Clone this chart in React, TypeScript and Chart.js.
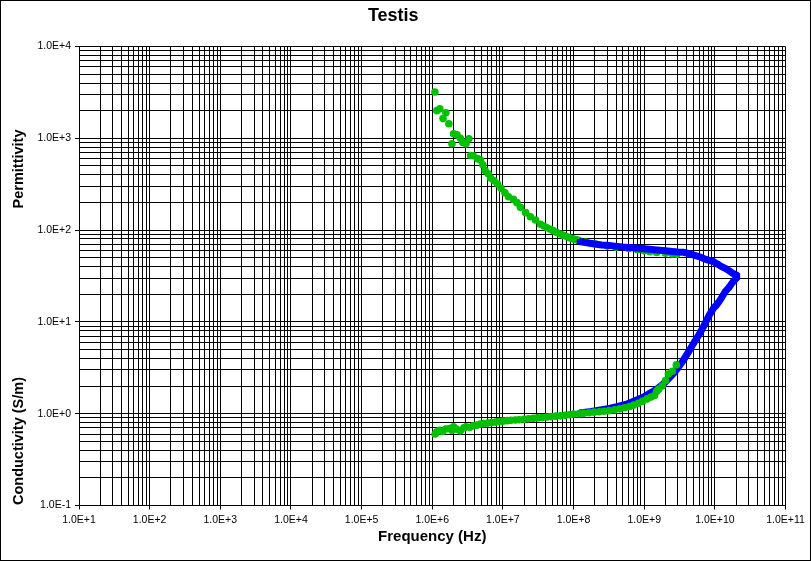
import { useEffect, useRef } from 'react'
import { Chart, registerables } from 'chart.js'

Chart.register(...registerables)

// green series
const greenPermFreq = [
  1.09e6, 1.16e6, 1.28e6, 1.42e6, 1.56e6, 1.72e6, 1.9e6, 2.0e6, 2.24e6, 2.5e6,
  2.7e6, 3.0e6, 3.3e6, 3.5e6, 3.8e6, 4.4e6, 4.8e6, 5.2e6, 5.6e6, 6.2e6,
  6.7e6, 7.5e6, 8.4e6, 9.4e6, 1.07e7, 1.2e7, 1.41e7, 1.58e7, 1.77e7, 2.1e7,
  2.45e7, 2.9e7, 3.4e7, 3.8e7, 4.2e7, 4.7e7, 5.2e7, 5.8e7, 6.5e7, 7.2e7,
  8.1e7, 9.0e7, 1.0e8, 1.08e8, 1.18e8, 1.5e8, 2.0e8, 3.0e8, 4.0e8, 6.0e8,
  8.0e8, 1.0e9, 1.2e9, 1.5e9, 2.0e9, 2.5e9, 2.9e9,
]
const greenPermVal = [
  3200, 2000, 2100, 1640, 1900, 1440, 870, 1120, 1090, 1000,
  900, 870, 990, 650, 645, 600, 580, 515, 445, 410,
  370, 345, 318, 285, 255, 231, 216, 199, 177, 155,
  140, 129, 116, 111, 106, 102, 98, 94, 90.6, 87.5,
  84.6, 82, 80, 78.7, 77.5, 74, 71, 67, 65, 63,
  61, 59.5, 58, 57, 56, 55, 54.5,
]

const greenCondFreq = [
  1.1e6, 1.15e6, 1.25e6, 1.4e6, 1.55e6, 1.75e6, 1.9e6, 2.0e6, 2.2e6, 2.5e6,
  2.8e6, 3.0e6, 3.4e6, 3.8e6, 4.3e6, 4.8e6, 5.4e6, 6.1e6, 6.9e6, 7.8e6,
  8.8e6, 1.0e7, 1.15e7, 1.3e7, 1.5e7, 1.7e7, 2.0e7, 2.3e7, 2.7e7, 3.1e7,
  3.6e7, 4.2e7, 4.8e7, 5.6e7, 6.5e7, 7.6e7, 8.8e7, 1.0e8, 1.2e8, 1.4e8,
  1.65e8, 1.95e8, 2.3e8, 2.7e8, 3.2e8, 3.8e8, 4.5e8, 5.3e8, 6.2e8, 7.1e8,
  8.2e8, 9.5e8, 1.1e9, 1.25e9, 1.4e9, 1.5e9, 1.6e9, 1.8e9, 2.0e9, 2.2e9,
  2.5e9, 2.85e9,
]
const greenCondVal = [
  0.6, 0.63, 0.66, 0.64, 0.68, 0.69, 0.66, 0.72, 0.68, 0.65,
  0.7, 0.72, 0.71, 0.74, 0.75, 0.77, 0.78, 0.79, 0.8, 0.81,
  0.82, 0.83, 0.84, 0.85, 0.855, 0.86, 0.87, 0.88, 0.89, 0.9,
  0.91, 0.92, 0.93, 0.94, 0.95, 0.96, 0.975, 0.99, 1.0, 1.01,
  1.025, 1.04, 1.05, 1.065, 1.08, 1.1, 1.13, 1.16, 1.2, 1.24,
  1.3, 1.37, 1.45, 1.52, 1.58, 1.75, 1.85, 2.0, 2.3, 2.7,
  2.9, 3.4,
]

// blue series
const bluePermFreq = [
  1.2e8, 1.4e8, 1.7e8, 2.0e8, 2.5e8, 3.0e8, 4.1e8, 5.0e8, 6.0e8, 7.0e8,
  8.8e8, 1.0e9, 1.2e9, 1.5e9, 2.0e9, 2.5e9, 3.0e9, 3.6e9, 4.3e9, 5.2e9,
  6.2e9, 7.5e9, 8.5e9, 9.6e9, 1.1e10, 1.25e10, 1.4e10, 1.6e10, 1.8e10, 2.1e10,
]
const bluePermVal = [
  75, 73.5, 72, 70.5, 69, 68.3, 66.5, 65.5, 64.8, 64.2,
  63.5, 62.8, 61.8, 60.8, 59.5, 58.5, 57.8, 57.3, 55.5, 53,
  51, 48, 46.5, 45.3, 42.5, 40, 38.4, 36, 33.8, 32,
]

const blueCondFreq = [
  2.1e10, 1.8e10, 1.6e10, 1.4e10, 1.2e10, 1.05e10, 9.6e9, 8.3e9, 6.9e9, 6.0e9,
  5.0e9, 4.3e9, 3.6e9, 3.0e9, 2.6e9, 2.2e9, 1.9e9, 1.5e9, 1.2e9, 9.5e8,
  7.1e8, 5.5e8, 4.1e8, 3.2e8, 2.4e8, 1.8e8, 1.38e8, 1.2e8,
]
const blueCondVal = [
  31, 27.3, 24, 21.3, 17.5, 15.2, 14.1, 11.8, 8.9, 7.3,
  5.85, 4.8, 3.85, 3.15, 2.75, 2.4, 2.14, 1.85, 1.67, 1.5,
  1.37, 1.26, 1.19, 1.14, 1.1, 1.06, 1.03, 1.02,
]

// axis ranges: decades 1e1..1e11 and 1e-1..1e4
const xDecades = [1, 2, 3, 4, 5, 6, 7, 8, 9, 10, 11]
const yDecades = [-1, 0, 1, 2, 3, 4]
const mantissas = [1, 2, 3, 4, 5, 6, 7, 8, 9]

const GREEN = '#00c000'
const BLUE = '#0000ff'
const FONT = '"Liberation Sans", Arial, sans-serif'

const zip = (xs: number[], ys: number[]) => xs.map((x, i) => ({ x, y: ys[i] }))

const gridValues = (decades: number[]) => {
  const out: number[] = []
  decades.forEach((e, i) => {
    if (i === decades.length - 1) out.push(Math.pow(10, e))
    else mantissas.forEach(m => out.push(m * Math.pow(10, e)))
  })
  return out
}

const isDecade = (v: any) => {
  if (typeof v !== 'number' || v <= 0) return false
  const l = Math.log10(v)
  return Math.abs(l - Math.round(l)) < 1e-9
}
const fmt = (v: number) => v.toExponential(1).toUpperCase()

const sideTitles = {
  id: 'sideTitles',
  afterDraw(chart: Chart) {
    const { ctx } = chart
    const put = (text: string, x: number, y: number) => {
      ctx.save()
      ctx.translate(x, y)
      ctx.rotate(-Math.PI / 2)
      ctx.fillStyle = '#000'
      ctx.font = `bold 14.5px ${FONT}`
      ctx.textAlign = 'center'
      ctx.textBaseline = 'middle'
      ctx.fillText(text, 0, 0)
      ctx.restore()
    }
    put('Permittivity', 17.5, 168)
    put('Conductivity (S/m)', 17.5, 440)
  },
}

export default function App() {
  const canvasRef = useRef<HTMLCanvasElement>(null)
  const chartRef = useRef<Chart | null>(null)

  useEffect(() => {
    if (!canvasRef.current) return
    if (chartRef.current) chartRef.current.destroy()

    const tickFont = { family: FONT, size: 10.5 }
    const tickColor = (ctx: any) => (isDecade(ctx.tick?.value) ? '#000' : 'rgba(0,0,0,0)')

    chartRef.current = new Chart(canvasRef.current, {
      type: 'scatter',
      data: {
        datasets: [
          {
            data: zip(greenCondFreq, greenCondVal),
            order: 0,
            pointStyle: 'circle',
            pointRadius: 3.8,
            pointBorderWidth: 0,
            pointBackgroundColor: GREEN,
            showLine: false,
          },
          {
            data: zip(blueCondFreq, blueCondVal),
            order: 1,
            pointStyle: 'rect',
            pointRadius: 3.5,
            pointBorderWidth: 0,
            pointBackgroundColor: BLUE,
            showLine: true,
            borderColor: BLUE,
            borderWidth: 7,
          },
          {
            data: zip(bluePermFreq, bluePermVal),
            order: 2,
            pointStyle: 'rect',
            pointRadius: 3.5,
            pointBorderWidth: 0,
            pointBackgroundColor: BLUE,
            showLine: true,
            borderColor: BLUE,
            borderWidth: 7,
          },
          {
            data: zip(greenPermFreq, greenPermVal),
            order: 3,
            pointStyle: 'circle',
            pointRadius: 3.8,
            pointBorderWidth: 0,
            pointBackgroundColor: GREEN,
            showLine: false,
          },
        ],
      },
      options: {
        animation: false,
        responsive: true,
        maintainAspectRatio: false,
        layout: { padding: { top: 0, right: 24.5, bottom: 0, left: 0 } },
        plugins: {
          legend: { display: false },
          tooltip: { enabled: false },
          title: {
            display: true,
            text: 'Testis',
            color: '#000',
            font: { family: FONT, size: 18, weight: 'bold' },
            padding: { top: 4, bottom: 19.9 },
          },
        },
        scales: {
          x: {
            type: 'logarithmic',
            position: 'bottom',
            min: 10,
            max: 1e11,
            afterBuildTicks: (s: any) => { s.ticks = gridValues(xDecades).map(value => ({ value })) },
            afterFit: (s: any) => { s.height = 54.5 },
            grid: { color: '#000', lineWidth: 1, tickLength: 4, tickColor },
            border: { color: '#000', width: 1 },
            ticks: {
              autoSkip: false,
              maxRotation: 0,
              padding: 4,
              color: '#000',
              font: tickFont,
              callback: (v: any) => (isDecade(v) ? fmt(v) : ''),
            },
            title: {
              display: true,
              text: 'Frequency (Hz)',
              color: '#000',
              font: { family: FONT, size: 15, weight: 'bold' },
              padding: { top: 0, bottom: 14 },
            },
          },
          y: {
            type: 'logarithmic',
            position: 'left',
            min: 0.1,
            max: 1e4,
            afterBuildTicks: (s: any) => { s.ticks = gridValues(yDecades).map(value => ({ value })) },
            afterFit: (s: any) => { s.width = 78 },
            grid: { color: '#000', lineWidth: 1, tickLength: 4, tickColor },
            border: { color: '#000', width: 1 },
            ticks: {
              autoSkip: false,
              padding: 4,
              color: '#000',
              font: tickFont,
              callback: (v: any) => (isDecade(v) ? fmt(v) : ''),
            },
          },
        },
      },
      plugins: [sideTitles],
    } as any)

    return () => { chartRef.current?.destroy() }
  }, [])

  return (
    <div style={{ position: 'absolute', left: 0, top: 0, width: 811, height: 561, border: '1px solid #000', boxSizing: 'border-box', background: '#fff' }}>
      <div style={{ position: 'relative', width: 809, height: 559 }}>
        <canvas ref={canvasRef} />
      </div>
    </div>
  )
}
